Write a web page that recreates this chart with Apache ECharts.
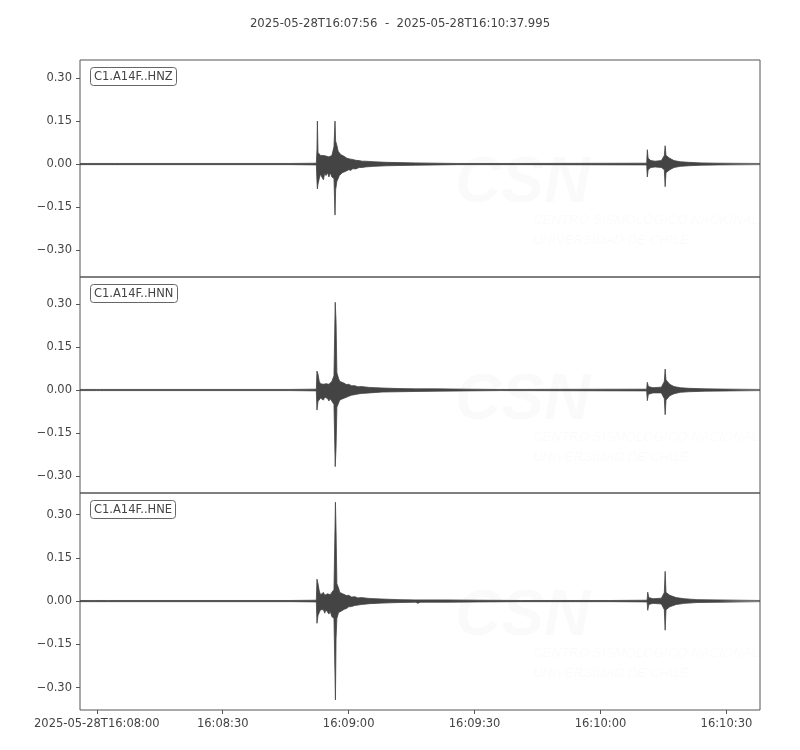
<!DOCTYPE html>
<html><head><meta charset="utf-8">
<script src="https://cdn.jsdelivr.net/npm/echarts@6/dist/echarts.min.js"></script>
<style>html,body{margin:0;padding:0;background:#fff}#c{width:800px;height:750px}</style>
</head><body><div id="c"></div>
<script>
// ---- data (time in seconds after 2025-05-28T16:07:56 UTC; [t, lower envelope, upper envelope]) ----
const titleText = '2025-05-28T16:07:56  -  2025-05-28T16:10:37.995';
const channels = ['C1.A14F..HNZ', 'C1.A14F..HNN', 'C1.A14F..HNE'];
const yLimits = [[-0.394, 0.363], [-0.359, 0.394], [-0.378, 0.375]];
const yTickValues = [-0.30, -0.15, 0.00, 0.15, 0.30];
const xTickTimes = ['16:08:00', '16:08:30', '16:09:00', '16:09:30', '16:10:00', '16:10:30'];

const hnz = [
  [0, -0.002, 0.002], [7.6, -0.002, 0.002], [7.9, -0.005, 0.004], [8.2, -0.002, 0.002],
  [30, -0.002, 0.002], [50, -0.002, 0.002], [56.3, -0.003, 0.003],
  [56.45, -0.06, 0.05], [56.55, -0.087, 0.15], [56.7, -0.07, 0.04], [57.0, -0.05, 0.045],
  [57.3, -0.035, 0.03], [57.6, -0.045, 0.035], [58.0, -0.055, 0.03], [58.3, -0.03, 0.025],
  [58.6, -0.04, 0.028], [59.0, -0.03, 0.022], [59.3, -0.045, 0.025], [59.6, -0.03, 0.03],
  [60.0, -0.045, 0.03], [60.5, -0.05, 0.06], [60.75, -0.178, 0.15],
  [60.9, -0.09, 0.08], [61.2, -0.06, 0.065], [61.5, -0.05, 0.045], [61.8, -0.04, 0.04],
  [62.1, -0.045, 0.033], [62.5, -0.03, 0.03], [62.9, -0.035, 0.027], [63.2, -0.026, 0.025],
  [63.6, -0.028, 0.02], [64.0, -0.02, 0.021], [64.5, -0.022, 0.017], [65.0, -0.016, 0.016],
  [65.7, -0.017, 0.013], [66.5, -0.012, 0.012], [67.2, -0.012, 0.01],
  [68.0, -0.01, 0.01], [70.0, -0.008, 0.008], [73.0, -0.006, 0.006], [76.0, -0.005, 0.005],
  [80.0, -0.004, 0.004], [85.0, -0.003, 0.003], [90.0, -0.002, 0.002],
  [103.8, -0.002, 0.002], [104.1, -0.004, 0.004], [104.4, -0.002, 0.002],
  [135.0, -0.003, 0.003], [135.15, -0.045, 0.05], [135.35, -0.02, 0.02], [136.0, -0.012, 0.012],
  [137.0, -0.01, 0.01], [138.5, -0.012, 0.012], [139.2, -0.02, 0.03], [139.4, -0.079, 0.064],
  [139.6, -0.03, 0.03], [140.5, -0.02, 0.02], [141.5, -0.012, 0.012], [143.0, -0.008, 0.008],
  [145.0, -0.006, 0.006], [148.0, -0.004, 0.004], [152.0, -0.003, 0.003], [162.0, -0.002, 0.002]
];
const hnn = [
  [0, -0.002, 0.002], [4.0, -0.002, 0.002], [4.3, -0.004, 0.003], [4.6, -0.002, 0.002],
  [50, -0.002, 0.002], [56.3, -0.003, 0.003],
  [56.45, -0.07, 0.066], [56.7, -0.04, 0.055], [57.0, -0.035, 0.03], [57.3, -0.028, 0.022],
  [57.6, -0.032, 0.026], [58.0, -0.035, 0.02], [58.3, -0.024, 0.018], [58.6, -0.028, 0.022],
  [59.0, -0.03, 0.025], [59.3, -0.038, 0.02], [59.6, -0.03, 0.022],
  [60.0, -0.03, 0.03], [60.5, -0.05, 0.05], [60.8, -0.267, 0.306], [61.0, -0.2, 0.24],
  [61.2, -0.06, 0.06], [61.6, -0.045, 0.04], [61.9, -0.035, 0.03], [62.2, -0.04, 0.035],
  [62.6, -0.03, 0.026], [63.0, -0.028, 0.025], [63.5, -0.025, 0.019],
  [64.0, -0.022, 0.02], [64.7, -0.018, 0.015], [65.5, -0.016, 0.015], [66.2, -0.014, 0.011],
  [67.0, -0.012, 0.012], [69.0, -0.01, 0.009],
  [72.0, -0.007, 0.007], [76.0, -0.006, 0.005], [80.0, -0.005, 0.004], [85.0, -0.004, 0.004],
  [92.0, -0.003, 0.003], [100.0, -0.002, 0.002],
  [135.0, -0.003, 0.003], [135.15, -0.037, 0.027], [135.4, -0.015, 0.012], [136.5, -0.01, 0.008],
  [138.5, -0.01, 0.01], [139.2, -0.03, 0.03], [139.4, -0.086, 0.073], [139.6, -0.035, 0.035],
  [140.5, -0.02, 0.02], [141.5, -0.013, 0.012], [143.0, -0.008, 0.008], [145.0, -0.006, 0.006],
  [149.0, -0.004, 0.004], [155.0, -0.003, 0.003], [162.0, -0.002, 0.002]
];
const hne = [
  [0, -0.002, 0.002], [3.0, -0.002, 0.002], [3.3, -0.004, 0.004], [3.6, -0.002, 0.002],
  [6.5, -0.002, 0.002], [6.8, -0.004, 0.004], [7.1, -0.002, 0.002],
  [50, -0.002, 0.002], [56.3, -0.003, 0.003],
  [56.45, -0.077, 0.076], [56.7, -0.05, 0.06], [57.0, -0.04, 0.035], [57.3, -0.03, 0.022],
  [57.6, -0.036, 0.026], [58.0, -0.03, 0.03], [58.3, -0.042, 0.02], [58.6, -0.03, 0.022],
  [59.0, -0.033, 0.025], [59.3, -0.045, 0.02], [59.6, -0.035, 0.022],
  [60.0, -0.054, 0.025], [60.5, -0.06, 0.04], [60.85, -0.343, 0.343], [61.0, -0.13, 0.245],
  [61.2, -0.06, 0.06], [61.6, -0.04, 0.045], [61.9, -0.045, 0.03], [62.2, -0.035, 0.032],
  [62.6, -0.038, 0.025], [63.0, -0.028, 0.025], [63.5, -0.026, 0.019],
  [64.0, -0.02, 0.02], [64.7, -0.019, 0.014], [65.5, -0.015, 0.015], [66.2, -0.014, 0.011],
  [67.0, -0.012, 0.012], [69.0, -0.009, 0.009],
  [72.0, -0.007, 0.007], [76.0, -0.005, 0.005], [80.0, -0.004, 0.004], [80.5, -0.008, 0.004],
  [81.0, -0.004, 0.004], [87.0, -0.004, 0.004], [95.0, -0.003, 0.003], [105.0, -0.002, 0.002],
  [125.8, -0.002, 0.002], [126.1, -0.004, 0.004], [126.4, -0.002, 0.002],
  [135.1, -0.003, 0.003], [135.25, -0.032, 0.031], [135.5, -0.012, 0.012], [136.5, -0.008, 0.008],
  [138.5, -0.01, 0.01], [139.2, -0.03, 0.03], [139.4, -0.101, 0.103], [139.6, -0.03, 0.03],
  [140.5, -0.02, 0.02], [142.0, -0.012, 0.012], [144.0, -0.008, 0.008], [147.0, -0.005, 0.005],
  [152.0, -0.004, 0.004], [162.0, -0.002, 0.002]
];
const traces = [hnz, hnn, hne];

// ---- chart (x axis in seconds after the start time) ----
const startSec = 16 * 3600 + 7 * 60 + 56;
const durationSec = 161.995;
const xTickSec = xTickTimes.map(s => {
  const p = s.split(':').map(Number);
  return p[0] * 3600 + p[1] * 60 + p[2] - startSec;
});
const TRACE = '#444444';
const FRAME = '#555555';
const TXT = '#444444';
const FONT = 'DejaVu Sans';

const gridTops = [60, 277, 493];
const gridHeights = [217, 216, 217];

function pad(n) { return (n < 10 ? '0' : '') + n; }
function fmtTime(v) {
  const s = Math.round(startSec + v);
  const hms = pad(Math.floor(s / 3600)) + ':' + pad(Math.floor(s / 60) % 60) + ':' + pad(s % 60);
  if (Math.abs(v - xTickSec[0]) < 1e-6) return '2025-05-28T' + hms;
  return hms;
}

const grids = [], xAxes = [], yAxes = [], series = [], titles = [];
titles.push({
  text: titleText, left: 'center', top: 13,
  textStyle: { fontFamily: FONT, fontSize: 11.7, fontWeight: 'normal', color: TXT }
});

traces.forEach((tr, i) => {
  grids.push({ left: 80, right: 40, top: gridTops[i], height: gridHeights[i], show: true,
    borderColor: FRAME, borderWidth: 1, backgroundColor: 'transparent' });
  const isBottom = i === traces.length - 1;
  xAxes.push({
    type: 'value', gridIndex: i, min: 0, max: durationSec,
    show: isBottom,
    axisLine: { show: false, onZero: false },
    axisTick: { show: isBottom, inside: false, length: 4, lineStyle: { color: FRAME }, customValues: xTickSec },
    splitLine: { show: false },
    axisLabel: { show: isBottom, formatter: fmtTime, color: TXT, fontFamily: FONT, fontSize: 11.5,
      margin: 8, hideOverlap: false, customValues: xTickSec }
  });
  yAxes.push({
    type: 'value', gridIndex: i, min: yLimits[i][0], max: yLimits[i][1],
    axisLine: { show: false, onZero: false },
    axisTick: { show: true, inside: false, length: 4, lineStyle: { color: FRAME }, customValues: yTickValues },
    splitLine: { show: false },
    axisLabel: { color: TXT, fontFamily: FONT, fontSize: 11.5, margin: 8, customValues: yTickValues,
      formatter: v => (v < -1e-9 ? '\u2212' : '') + Math.abs(v).toFixed(2) }
  });
  const up = tr.map(p => [p[0], p[2]]);
  const lo = tr.map(p => [p[0], p[1]]);
  [up, lo].forEach(d => series.push({
    type: 'line', xAxisIndex: i, yAxisIndex: i, data: d, symbol: 'none', showSymbol: false,
    lineStyle: { color: TRACE, width: 0.8 }, areaStyle: { color: TRACE, opacity: 1 },
    emphasis: { disabled: true }, silent: true, z: 3
  }));
  titles.push({
    text: channels[i], left: 90, top: gridTops[i] + 7,
    padding: [4, 4, 3, 4], borderColor: '#666', borderWidth: 1, borderRadius: 3,
    backgroundColor: '#fff',
    textStyle: { fontFamily: FONT, fontSize: 11.5, fontWeight: 'normal', color: '#444' }
  });
});

// faint watermark
const graphics = [];
gridTops.forEach(t => {
  graphics.push({ type: 'text', x: 455, y: t + 92, silent: true, z: 0,
    style: { text: 'CSN', fontFamily: 'Liberation Sans', fontSize: 64, fontWeight: 'bold', fontStyle: 'italic', fill: 'rgba(0,0,0,0.018)' } });
  graphics.push({ type: 'text', x: 533, y: t + 154, silent: true, z: 0,
    style: { text: 'CENTRO SISMOLÓGICO NACIONAL', fontFamily: 'Liberation Sans', fontSize: 13.3, fontStyle: 'italic', fill: 'rgba(0,0,0,0.018)' } });
  graphics.push({ type: 'text', x: 533, y: t + 174, silent: true, z: 0,
    style: { text: 'UNIVERSIDAD DE CHILE', fontFamily: 'Liberation Sans', fontSize: 13.3, fontStyle: 'italic', fill: 'rgba(0,0,0,0.018)' } });
});

const chart = echarts.init(document.getElementById('c'), null, { renderer: 'canvas' });
chart.setOption({
  animation: false,
  backgroundColor: '#fff',
  title: titles,
  grid: grids,
  xAxis: xAxes,
  yAxis: yAxes,
  series: series,
  graphic: graphics
});
</script></body></html>
